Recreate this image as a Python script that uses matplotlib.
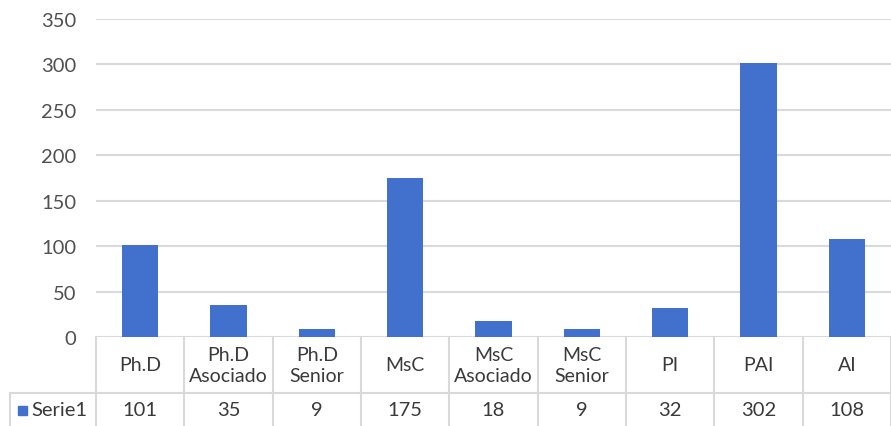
import matplotlib.pyplot as plt
import matplotlib.transforms as mtransforms
from matplotlib.patches import Rectangle

# data
categories = ["Ph.D", "Ph.D\nAsociado", "Ph.D\nSenior", "MsC", "MsC\nAsociado",
              "MsC\nSenior", "PI", "PAI", "AI"]
values = [101, 35, 9, 175, 18, 9, 32, 302, 108]
series_name = "Serie1"
yticks = [0, 50, 100, 150, 200, 250, 300, 350]

bar_color = "#4170CD"
grid_color = "#D9D9D9"
text_color = "#3A3A3A"

plt.rcParams["font.family"] = ["Lato", "DejaVu Sans"]

W, H = 891, 427
fig = plt.figure(figsize=(W / 100, H / 100), dpi=100)
# plot area: x 96..891 px, y 20..338 px (from top)
ax = fig.add_axes([96 / W, (H - 338) / H, (W - 96) / W, 318 / H])

x = list(range(len(categories)))
ax.bar(x, values, width=0.41, color=bar_color, zorder=3)

ax.set_xlim(-0.5, len(categories) - 0.5)
ax.set_ylim(0, 350)
ax.set_yticks(yticks)
ax.yaxis.grid(True, color=grid_color, linewidth=1.5)
ax.set_axisbelow(True)
ax.set_xticks([])
ax.tick_params(axis="y", length=0, pad=14, labelsize=14.5, labelcolor="#505050")
for s in ax.spines.values():
    s.set_visible(False)

# data table under the chart
trans = mtransforms.blended_transform_factory(ax.transData, ax.transAxes)
px = 1 / 318  # one pixel in axes y fraction
y_bottom = -89 * px
y_row = -56 * px  # line between header and value rows

for xi in [i - 0.5 for i in range(len(categories) + 1)]:
    ax.plot([xi, xi], [y_bottom, 0], transform=trans, color=grid_color,
            linewidth=1.5, clip_on=False)
ax.plot([-0.5, len(categories) - 0.5], [y_row, y_row], transform=trans,
        color=grid_color, linewidth=1.5, clip_on=False)
# row label cell
left = (10 - 96) / 795
ax.plot([left, 0], [y_row, y_row], transform=ax.transAxes, color=grid_color,
        linewidth=1.5, clip_on=False)
ax.plot([left, left], [y_bottom, y_row], transform=ax.transAxes, color=grid_color,
        linewidth=1.5, clip_on=False)

for xi, cat, v in zip(x, categories, values):
    ax.text(xi, -28 * px, cat, transform=trans, ha="center", va="center",
            fontsize=14, color=text_color, linespacing=1.35)
    ax.text(xi, -73 * px, str(v), transform=trans, ha="center", va="center",
            fontsize=14.5, color=text_color)

ax.add_patch(Rectangle(((18 - 96) / 795, -78 * px), 9 / 795, 9 * px,
                       transform=ax.transAxes, color=bar_color, clip_on=False))
ax.text((31 - 96) / 795, -73 * px, series_name, transform=ax.transAxes,
        ha="left", va="center", fontsize=14.5, color=text_color)

fig.savefig("out.png", dpi=100)
